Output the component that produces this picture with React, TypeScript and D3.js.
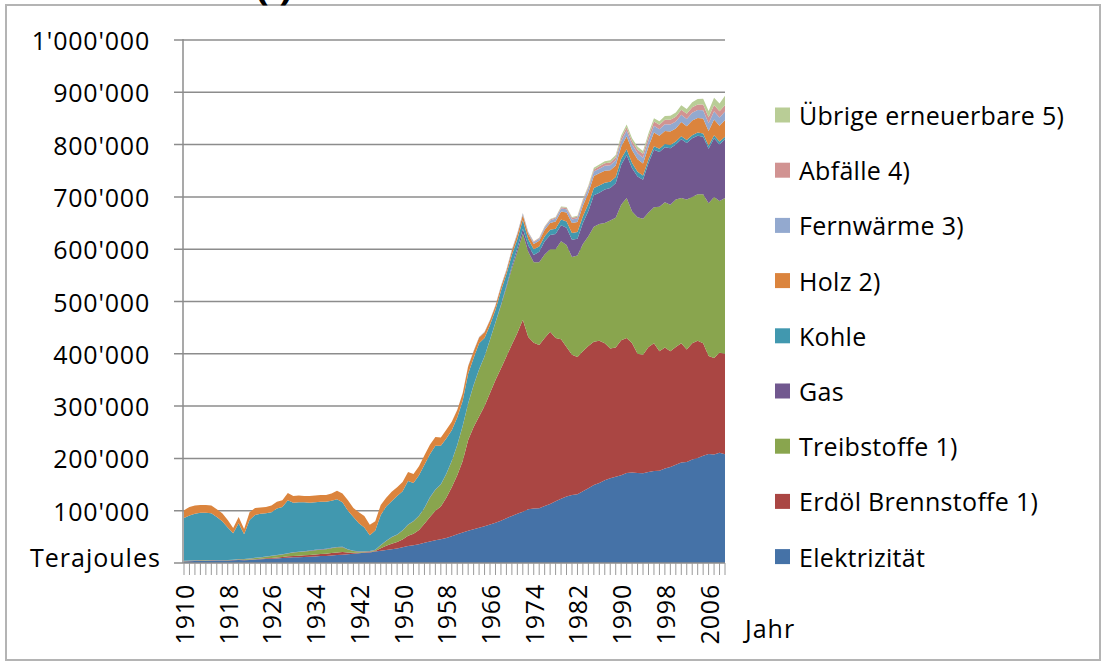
import * as d3 from "d3";

// Endverbrauch nach Energieträgern, Terajoules (values in 1000 TJ), 1910–2009
const years = d3.range(1910, 2010);

const elektrizitaet = [
  3.0, 3.3, 3.6, 3.9, 4.0, 4.3, 4.6, 4.8, 5.0, 5.2,
  5.5, 5.3, 5.8, 6.5, 7.0, 7.6, 8.1, 8.7, 9.4, 10.2,
  10.8, 11.0, 11.4, 11.9, 12.5, 13.2, 13.6, 14.5, 15.3, 16.0,
  16.8, 17.9, 18.5, 19.5, 20.3, 21.8, 23.5, 25.0, 26.5, 27.5,
  30.0, 32.5, 34.0, 36.0, 38.5, 41.0, 43.5, 45.5, 48.0, 51.0,
  55.0, 58.5, 61.5, 64.5, 67.5, 70.5, 73.5, 77.0, 81.0, 85.5,
  90.0, 94.0, 98.0, 103.0, 104.0, 104.5, 109.0, 113.0, 118.0, 123.0,
  127.0, 130.0, 131.5, 137.0, 143.0, 149.0, 153.0, 158.0, 162.0, 165.0,
  168.0, 172.0, 173.0, 172.0, 171.5, 174.0, 176.0, 176.5, 180.5, 183.5,
  188.0, 192.0, 193.0, 198.0, 201.0, 205.0, 208.5, 207.5, 211.0, 208.0,
];

const erdoel = [
  0.4, 0.4, 0.5, 0.5, 0.4, 0.4, 0.3, 0.2, 0.2, 0.3,
  0.5, 0.5, 0.7, 0.9, 1.1, 1.3, 1.5, 1.8, 2.1, 2.5,
  2.8, 3.0, 3.2, 3.5, 3.8, 4.0, 4.3, 4.6, 4.9, 5.2,
  3.5, 1.8, 1.2, 0.9, 0.7, 1.2, 4.5, 8.0, 10.5, 12.5,
  15.0, 19.5, 22.0, 27.0, 36.5, 47.0, 56.5, 62.5, 77.0, 94.0,
  113, 136.5, 173.5, 195.5, 212.5, 229.5, 251.5, 273, 291, 309.5,
  328, 346, 367, 329, 317, 312.5, 321, 329, 312, 305,
  286, 268, 262.5, 268, 272, 274, 272, 262, 248, 247,
  258, 258, 247, 228, 226.5, 239, 244, 228.5, 231.5, 221.5,
  225, 228, 215, 222, 224, 215, 187.5, 184.5, 191, 192,
];

const treibstoffe = [
  0.5, 0.6, 0.7, 0.8, 0.7, 0.6, 0.5, 0.4, 0.3, 0.6,
  1.0, 1.2, 1.6, 2.0, 2.5, 3.0, 3.6, 4.2, 4.9, 5.6,
  6.3, 6.9, 7.3, 7.6, 8.0, 8.3, 8.6, 9.2, 9.8, 9.0,
  5.5, 3.2, 2.0, 1.5, 1.2, 2.0, 6, 9, 12, 14,
  17, 21, 24, 27, 30, 37, 40, 42, 45, 50,
  57, 67, 70, 80, 90, 95, 102, 110, 120, 132,
  145, 155, 165, 163, 154, 158, 160, 158, 170, 187,
  195, 187, 194, 205, 210, 220, 223, 230, 245, 248,
  259, 268, 252, 261, 260, 257, 260, 276, 278, 280,
  282, 278, 287, 280, 280, 285, 292, 308, 290, 298,
];

const gas = [
  0.3, 0.3, 0.3, 0.3, 0.3, 0.3, 0.3, 0.3, 0.3, 0.3,
  0.5, 0.5, 0.5, 0.5, 0.5, 0.5, 0.5, 0.5, 0.5, 0.5,
  0.8, 0.8, 0.8, 0.8, 0.8, 0.8, 0.8, 0.8, 0.8, 0.8,
  0.6, 0.6, 0.6, 0.6, 0.6, 0.5, 0.5, 0.5, 0.5, 0.5,
  0.5, 0.5, 0.5, 0.5, 0.5, 0.5, 0.5, 0.5, 0.5, 0.5,
  0.5, 0.5, 0.5, 0.5, 0.5, 0.5, 0.5, 0.5, 2, 3,
  5, 7, 9, 12, 14, 20, 25, 27, 29, 31,
  33, 33, 32, 40, 48, 60, 60, 64, 62, 66,
  76, 82, 83, 78, 75, 95, 110, 105, 105, 108,
  105, 112, 108, 112, 112, 110, 104, 112, 108, 112,
];

const kohle = [
  81.8, 86.4, 88.9, 90.5, 90.6, 89.4, 82.3, 74.3, 62.2, 50.6,
  68.5, 47.5, 73.4, 82.1, 82.9, 82.6, 83.3, 88.8, 90.1, 101.2,
  94.3, 94.3, 93.3, 91.2, 90.9, 90.7, 89.7, 89.9, 91.2, 85.0,
  73.6, 64.5, 53.7, 45.5, 30.2, 36.5, 57.5, 65.5, 68.5, 73.5,
  74.5, 83.5, 72.5, 77.5, 82.5, 82.5, 83.5, 73.5, 67.5, 58.5,
  52.5, 47.5, 56.5, 51.5, 49.5, 34.5, 27.5, 23.5, 26, 22,
  21, 17, 17, 12, 11, 10, 10, 10, 10, 11,
  12, 13, 13, 13, 14, 14, 14, 13, 12, 12,
  12, 11, 10, 9, 8, 7, 7, 6, 6, 6,
  6, 6, 6, 6, 6, 6, 6, 6, 6, 5,
];

const holz = [
  15, 16, 16, 15, 15, 15, 15, 15, 14, 10,
  12, 10, 15, 13, 12, 12, 13, 13, 13, 14,
  13, 13, 12, 13, 13, 13, 13, 14, 16, 17,
  20, 17, 21, 22, 20, 18, 19, 17, 18, 17,
  18, 17, 17, 17, 18, 18, 17, 16, 17, 16,
  14.5, 14.4, 14.2, 13, 11, 11, 9, 7.8, 8, 7,
  8, 9, 9.5, 10, 10, 11, 12, 13, 14, 15,
  17, 19, 19, 20, 21, 23, 23, 23, 22, 22,
  23, 25, 24, 24, 23, 24, 26, 25, 25, 26,
  25, 27, 26, 28, 28, 29, 28, 30, 30, 32,
];

const fernwaerme = [
  0, 0, 0, 0, 0, 0, 0, 0, 0, 0,
  0, 0, 0, 0, 0, 0, 0, 0, 0, 0,
  0, 0, 0, 0, 0, 0, 0, 0, 0, 0,
  0, 0, 0, 0, 0, 0, 0, 0, 0, 0,
  0, 0, 0, 0, 0, 0, 0, 0, 0, 0,
  0.5, 0.6, 0.8, 0.9, 1.0, 1.0, 1.1, 1.2, 1.5, 1.8,
  2.0, 2.3, 2.6, 3.0, 3.5, 4.0, 4.5, 5.0, 5.5, 6.0,
  6.5, 7.0, 7.0, 7.5, 8.0, 8.5, 9.0, 9.5, 9.5, 10,
  10.5, 11, 11, 11.5, 11, 12, 13, 12.5, 13, 13.5,
  13, 14, 14, 15, 15, 15.5, 15, 16, 16, 16.5,
];

const abfaelle = [
  0, 0, 0, 0, 0, 0, 0, 0, 0, 0,
  0, 0, 0, 0, 0, 0, 0, 0, 0, 0,
  0, 0, 0, 0, 0, 0, 0, 0, 0, 0,
  0, 0, 0, 0, 0, 0, 0, 0, 0, 0,
  0, 0, 0, 0, 0, 0, 0, 0, 0, 0,
  0, 0, 0, 0, 0, 0, 0.2, 0.3, 0.4, 0.5,
  0.5, 0.6, 0.8, 1.0, 1.2, 1.4, 1.6, 1.8, 2.0, 2.4,
  2.8, 3.0, 3.2, 3.4, 3.6, 4.0, 4.4, 4.8, 5.2, 5.6,
  6.0, 6.3, 6.6, 6.8, 7.3, 7.8, 8.0, 8.4, 8.7, 9.0,
  9.2, 9.6, 10.0, 10.3, 10.6, 11.0, 11.3, 11.5, 11.8, 12.0,
];

const uebrige = [
  0, 0, 0, 0, 0, 0, 0, 0, 0, 0,
  0, 0, 0, 0, 0, 0, 0, 0, 0, 0,
  0, 0, 0, 0, 0, 0, 0, 0, 0, 0,
  0, 0, 0, 0, 0, 0, 0, 0, 0, 0,
  0, 0, 0, 0, 0, 0, 0, 0, 0, 0,
  0, 0, 0, 0, 0, 0, 0, 0, 0, 0,
  0.2, 0.3, 0.4, 0.5, 0.6, 0.7, 0.8, 0.9, 1.0, 1.2,
  1.5, 1.7, 1.8, 2.0, 2.4, 3.0, 3.4, 3.8, 4.2, 4.6,
  5.0, 5.2, 5.4, 5.5, 5.7, 6.0, 6.5, 6.8, 7.2, 7.6,
  8.0, 8.6, 9.2, 9.8, 10.4, 11.0, 12.0, 14.0, 15.0, 18.0,
];

// stack order, bottom to top
const seriesKeys = [
  "elektrizitaet", "erdoel", "treibstoffe", "gas", "kohle",
  "holz", "fernwaerme", "abfaelle", "uebrige",
];
const seriesValues = [
  elektrizitaet, erdoel, treibstoffe, gas, kohle,
  holz, fernwaerme, abfaelle, uebrige,
];
const seriesNames = [
  "Elektrizität", "Erdöl Brennstoffe 1)", "Treibstoffe 1)", "Gas", "Kohle",
  "Holz 2)", "Fernwärme 3)", "Abfälle 4)", "Übrige erneuerbare 5)",
];
const seriesColors = [
  "#4572a7", "#aa4643", "#89a54e", "#71588f", "#4198af",
  "#db843d", "#93a9cf", "#d19392", "#b9cd96",
];

const yTickValues = [100, 200, 300, 400, 500, 600, 700, 800, 900, 1000];
const yTickLabels = [
  "100'000", "200'000", "300'000", "400'000", "500'000",
  "600'000", "700'000", "800'000", "900'000", "1'000'000",
];
const xLabelYears = [1910, 1918, 1926, 1934, 1942, 1950, 1958, 1966, 1974, 1982, 1990, 1998, 2006];

const FONT = "'Open Sans', sans-serif";

export default function App() {
  const width = 1104;
  const height = 664;

  const x = d3.scalePoint<number>().domain(years).range([184, 725]);
  const y = d3.scaleLinear().domain([0, 1000]).range([563, 40]);

  const rows = years.map((yr, i) => {
    const row: Record<string, number> = { year: yr };
    seriesKeys.forEach((k, s) => (row[k] = seriesValues[s][i]));
    return row;
  });
  const stacked = d3.stack<Record<string, number>>().keys(seriesKeys)(rows);

  const area = d3
    .area<d3.SeriesPoint<Record<string, number>>>()
    .x((d) => x(d.data.year) as number)
    .y0((d) => y(d[0]))
    .y1((d) => y(d[1]));

  const plotRight = x.range()[1];
  const legendRows = seriesNames.map((n, i) => ({ name: n, color: seriesColors[i] })).reverse();

  return (
    <svg
      width={width}
      height={height}
      style={{ position: "absolute", left: 0, top: 0, background: "#fff" }}
      fontFamily={FONT}
    >
      <rect x={0} y={0} width={width} height={height} fill="#fff" />
      <rect x={6} y={5} width={1094} height={655} fill="none" stroke="#b4b4b4" strokeWidth={2} />
      {/* cut-off chart title, only its lower edge shows */}
      <text x={274} y={-1} fontSize={40} fontWeight="bold" textAnchor="middle" fill="#000">
        ( )
      </text>

      {/* gridlines + y ticks */}
      {yTickValues.map((v, i) => (
        <g key={v}>
          <line x1={174} x2={plotRight} y1={y(v)} y2={y(v)} stroke="#8c8c8c" strokeWidth={1.5} />
          <text
            x={150}
            y={y(v)}
            textAnchor="end"
            dominantBaseline="central"
            fontSize={25}
            letterSpacing={0.8}
            fill="#000"
          >
            {yTickLabels[i]}
          </text>
        </g>
      ))}

      {/* stacked areas */}
      {stacked.map((s, i) => (
        <path key={s.key} d={area(s) ?? ""} fill={seriesColors[i]} stroke="none" />
      ))}

      {/* axes */}
      <line x1={183} x2={183} y1={y(1000) - 1} y2={y(0)} stroke="#8c8c8c" strokeWidth={1.5} />
      <line x1={174} x2={plotRight} y1={y(0)} y2={y(0)} stroke="#8c8c8c" strokeWidth={1.5} />
      {years.map((yr) => (
        <line
          key={yr}
          x1={x(yr)}
          x2={x(yr)}
          y1={y(0)}
          y2={y(0) + 12}
          stroke="#9a9a9a"
          strokeWidth={1}
        />
      ))}
      {xLabelYears.map((yr) => (
        <text
          key={yr}
          transform={`translate(${x(yr)},584) rotate(-90)`}
          textAnchor="end"
          dominantBaseline="central"
          fontSize={25}
          letterSpacing={0.8}
          fill="#000"
        >
          {yr}
        </text>
      ))}

      <text x={30} y={557} dominantBaseline="central" fontSize={25} letterSpacing={1} fill="#000">
        Terajoules
      </text>
      <text x={745} y={628} dominantBaseline="central" fontSize={25} letterSpacing={1} fill="#000">
        Jahr
      </text>

      {/* legend */}
      {legendRows.map((r, i) => (
        <g key={r.name} transform={`translate(775,${115 + i * 55.2})`}>
          <rect x={0} y={-7.5} width={15} height={15} fill={r.color} />
          <text x={24} y={0} dominantBaseline="central" fontSize={25} letterSpacing={0.3} fill="#000">
            {r.name}
          </text>
        </g>
      ))}
    </svg>
  );
}
